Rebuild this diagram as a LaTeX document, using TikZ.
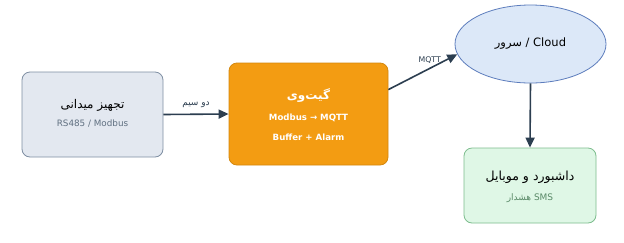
\documentclass[tikz,border=0pt]{standalone}
\usepackage{fontspec}
\setmainfont{DejaVu Sans}
\newfontfamily\fafont[Script=Arabic]{DejaVu Sans}
\TeXXeTstate=1
\usetikzlibrary{arrows.meta,shapes.geometric}
\definecolor{fieldfill}{HTML}{E3E8F0}
\definecolor{fielddraw}{HTML}{7F8FA3}
\definecolor{gwfill}{HTML}{F39C12}
\definecolor{gwdraw}{HTML}{D4880F}
\definecolor{cloudfill}{HTML}{DCE8F8}
\definecolor{clouddraw}{HTML}{5D7DBD}
\definecolor{dashfill}{HTML}{DFF7E6}
\definecolor{dashdraw}{HTML}{7DBD8E}
\definecolor{subgray}{HTML}{5F6F80}
\definecolor{subgreen}{HTML}{5A8A68}
\definecolor{arrowcol}{HTML}{2C3E50}
\newcommand{\fa}[1]{\mbox{\fafont\beginR #1\endR}}
\tikzset{
  boxnode/.style={rectangle, rounded corners=8pt, line width=0.8pt, align=center, inner sep=0pt},
  flow/.style={draw=arrowcol, line width=1.6pt, -{Triangle[length=10pt, width=9pt]}},
  flowlabel/.style={text=arrowcol}
}
\begin{document}
\begin{tikzpicture}[x=1pt, y=-1pt]
    \useasboundingbox[fill=white] (0,0) rectangle (624,242);

    % Field device
    \node[boxnode, fill=fieldfill, draw=fielddraw, minimum width=141pt, minimum height=85pt]
        (field) at (92.5,114.5) {};
    \node (fieldtitle) at (92.5,105) {\fontsize{12}{14}\selectfont\fa{تجهیز میدانی}};
    \node[text=subgray] (fieldsub) at (92.5,124) {\fontsize{8.8}{10}\selectfont RS485 / Modbus};

    % Gateway
    \node[boxnode, fill=gwfill, draw=gwdraw, minimum width=159pt, minimum height=102pt]
        (gw) at (308.5,114) {};
    \node[text=white] (gwtitle) at (308.5,96) {\fontsize{12}{14}\selectfont\bfseries\fa{گیت‌وی}};
    \node[text=white] (gwline1) at (308.5,118) {\fontsize{8.6}{10}\selectfont\bfseries Modbus → MQTT};
    \node[text=white] (gwline2) at (308.5,137) {\fontsize{8.6}{10}\selectfont\bfseries Buffer + Alarm};

    % Cloud
    \node[ellipse, fill=cloudfill, draw=clouddraw, line width=0.8pt, minimum width=151pt, minimum height=78pt, inner sep=0pt]
        (cloud) at (530.5,44) {};
    \node (cloudtext) at (530.5,44) {\fontsize{11.5}{13}\selectfont\fa{سرور} / Cloud};

    % Dashboard
    \node[boxnode, fill=dashfill, draw=dashdraw, minimum width=132pt, minimum height=75pt]
        (dash) at (530,185.5) {};
    \node (dashtitle) at (530,177) {\fontsize{12.5}{14}\selectfont\fa{داشبورد و موبایل}};
    \node[text=subgreen] (dashsub) at (530,198) {\fontsize{9}{10}\selectfont\fa{هشدار}\ \mbox{SMS}};

    % Connectors
    \draw[flow] (field.east) -- node[flowlabel, above=2pt, font=\fontsize{9}{10}\selectfont] (wirelbl) {\fa{دو سیم}} (gw.west);
    \draw[flow] (gw.17) -- node[flowlabel, pos=0.6, above=1pt, font=\fontsize{7.8}{9}\selectfont] (mqttlbl) {MQTT} (cloud.188);
    \draw[flow] (cloud.south) -- (dash.north);
\end{tikzpicture}
\end{document}
